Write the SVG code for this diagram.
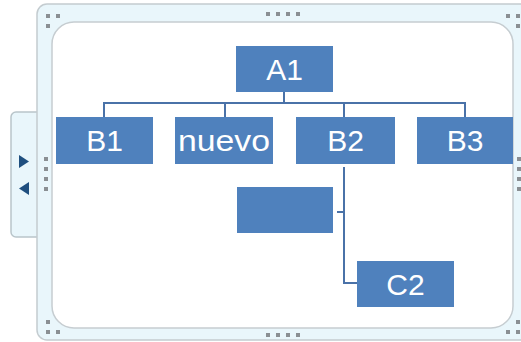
<svg xmlns="http://www.w3.org/2000/svg" width="521" height="342" viewBox="0 0 521 342">
<style>
.node{fill:#4f81bd;}
.lbl{font-family:"Liberation Sans",Arial,sans-serif;font-size:30px;fill:#ffffff;text-anchor:middle;}
.conn{fill:none;stroke:#4a72a8;stroke-width:2;}
.dot{fill:#8a8f93;}
</style>
<rect width="521" height="342" fill="#ffffff"/>
<g id="frame">
<rect x="11" y="112" width="32" height="125" rx="5" fill="#e9f6fb" stroke="#b9c5ca" stroke-width="1.5"/>
<polygon points="19,155 29,161.5 19,168" fill="#1f4f7f"/>
<polygon points="29,182 19,188.5 29,195" fill="#1f4f7f"/>
<rect x="37" y="4" width="500" height="336" rx="10" fill="#e9f6fb" stroke="#c4ccd0" stroke-width="1.5"/>
<rect x="52" y="22" width="461" height="306" rx="22" fill="#ffffff" stroke="#c6cdd1" stroke-width="1.5"/>
<g class="dot">
<rect x="46" y="14" width="4" height="4"/><rect x="56" y="14" width="4" height="4"/><rect x="46" y="24" width="4" height="4"/>
<rect x="266" y="12" width="4" height="4"/><rect x="276" y="12" width="4" height="4"/><rect x="286" y="12" width="4" height="4"/><rect x="296" y="12" width="4" height="4"/>
<rect x="506" y="14" width="4" height="4"/><rect x="516" y="14" width="4" height="4"/><rect x="516" y="24" width="4" height="4"/>
<rect x="44" y="157" width="4" height="4"/><rect x="44" y="167" width="4" height="4"/><rect x="44" y="177" width="4" height="4"/><rect x="44" y="187" width="4" height="4"/>
<rect x="517" y="157" width="4" height="4"/><rect x="517" y="167" width="4" height="4"/><rect x="517" y="177" width="4" height="4"/><rect x="517" y="187" width="4" height="4"/>
<rect x="46" y="320" width="4" height="4"/><rect x="46" y="330" width="4" height="4"/><rect x="56" y="330" width="4" height="4"/>
<rect x="266" y="333" width="4" height="4"/><rect x="276" y="333" width="4" height="4"/><rect x="286" y="333" width="4" height="4"/><rect x="296" y="333" width="4" height="4"/>
<rect x="516" y="320" width="4" height="4"/><rect x="506" y="330" width="4" height="4"/><rect x="516" y="330" width="4" height="4"/>
</g>
</g>
<g id="connectors">
<path class="conn" d="M284,92 V103 M104,117 V103 H465 V117 M225,103 V117 M344,103 V117"/>
<path class="conn" d="M344,167 V283 H357 M337,212 H344"/>
</g>
<g id="A1"><rect class="node" x="236" y="46" width="97" height="46"/><text class="lbl" x="284.5" y="80">A1</text></g>
<g id="B1"><rect class="node" x="56" y="117" width="97" height="47"/><text class="lbl" x="104.5" y="151">B1</text></g>
<g id="nuevo"><rect class="node" x="175" y="117" width="98" height="47"/><text class="lbl" x="224" y="151" textLength="92" lengthAdjust="spacingAndGlyphs">nuevo</text></g>
<g id="B2"><rect class="node" x="296" y="117" width="99" height="47"/><text class="lbl" x="345.5" y="151">B2</text></g>
<g id="B3"><rect class="node" x="417" y="117" width="96" height="47"/><text class="lbl" x="465" y="151">B3</text></g>
<g id="blank"><rect class="node" x="237" y="187" width="96" height="46"/></g>
<g id="C2"><rect class="node" x="357" y="261" width="97" height="46"/><text class="lbl" x="405.5" y="295">C2</text></g>
</svg>
